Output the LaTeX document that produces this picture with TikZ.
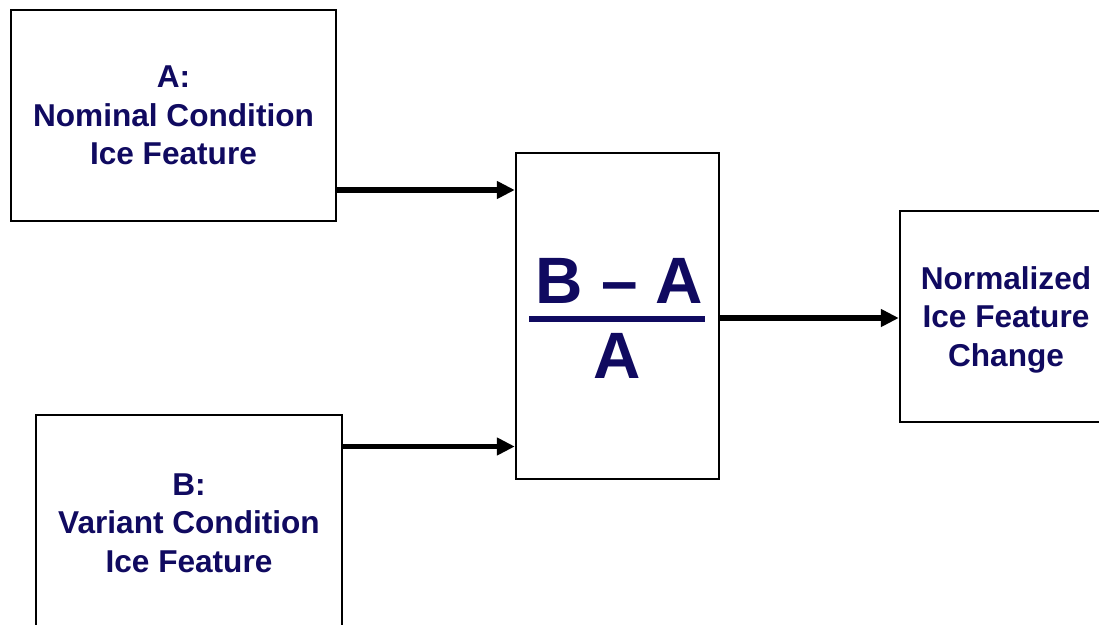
\documentclass[tikz,border=0pt]{standalone}
\usepackage{fontspec}
\setmainfont{Liberation Sans}
\usetikzlibrary{arrows.meta}
\definecolor{inknavy}{RGB}{16,10,96}
\tikzset{
  block/.style={draw=black, line width=2.4pt, fill=white, inner sep=0pt,
    align=center, text=inknavy, text depth=0pt,
    font=\fontsize{31.6}{38.5}\selectfont\bfseries},
  flow/.style={line width=5.5pt, -{Triangle[length=18pt,width=17pt]}},
  bigterm/.style={inner sep=0pt, anchor=base, text=inknavy,
    font=\fontsize{65.6}{70}\selectfont\bfseries}
}
\begin{document}
\begin{tikzpicture}[x=1pt, y=-1pt]
  \useasboundingbox (0,0) rectangle (1099,624);
  \clip (0,0) rectangle (1099,624);

  % input and output blocks
  \node[block, minimum width=325pt, minimum height=211pt] (A) at (173.5,115.5)
    {A:\\Nominal Condition\\Ice Feature};
  \node[block, minimum width=306pt, minimum height=216pt] (B) at (189,523)
    {B:\\Variant Condition\\Ice Feature};
  \node[block, minimum width=203pt, minimum height=326pt] (C) at (617.5,316) {};
  \node[block, minimum width=212pt, minimum height=211pt] (R) at (1006,316.5)
    {Normalized\\Ice Feature\\Change};

  % the normalised difference inside the centre block
  \node[bigterm] (num) at (619.5,303) {B – A};
  \node[bigterm] (den) at (617.5,378) {A};
  \coordinate (barL) at (529,318.7);
  \coordinate (barR) at (705,318.7);
  \draw[inknavy, line width=6pt] (barL) -- (barR);

  % connectors
  \coordinate (rowA) at (0,190);
  \coordinate (rowB) at (0,446.5);
  \coordinate (rowR) at (0,318);
  \draw[flow] (A.east |- rowA) -- (C.west |- rowA);
  \draw[flow] (B.east |- rowB) -- (C.west |- rowB);
  \draw[flow] (C.east |- rowR) -- (R.west |- rowR);
\end{tikzpicture}
\end{document}
